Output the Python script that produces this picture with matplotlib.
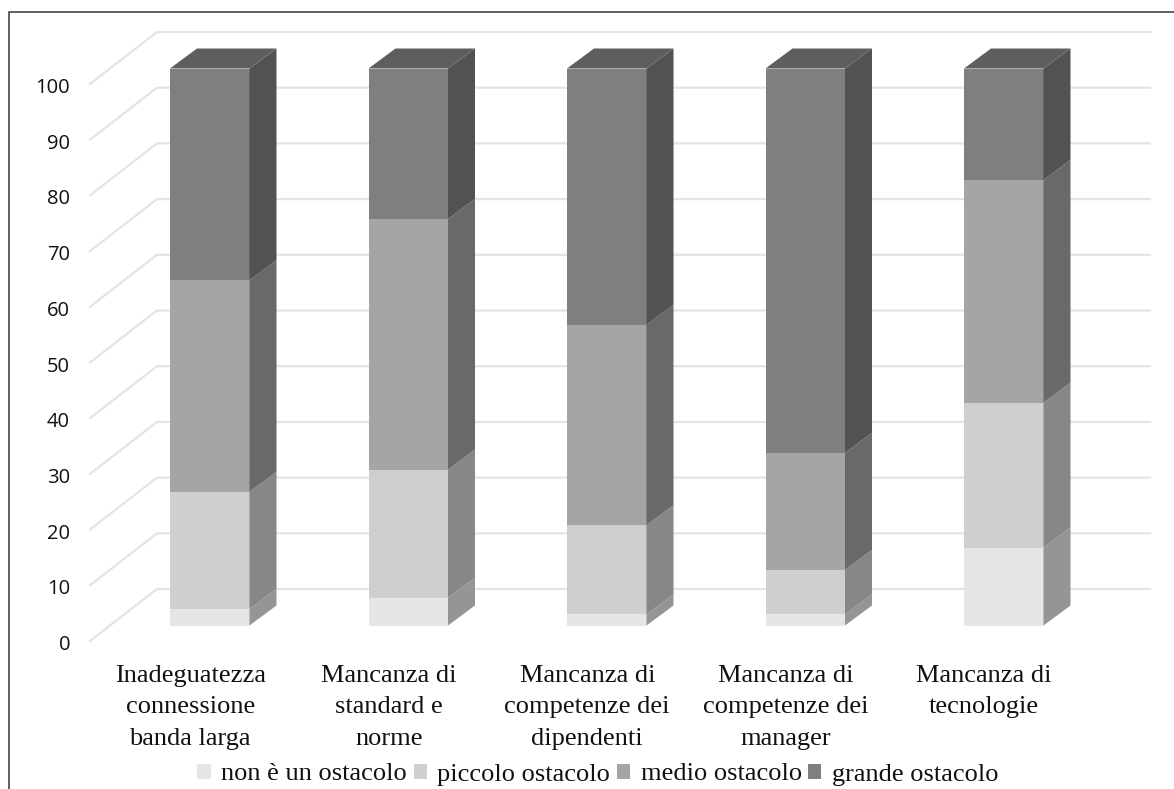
#!/usr/bin/env python3

import matplotlib
matplotlib.use("Agg")
import matplotlib.pyplot as plt
from matplotlib.patches import Polygon, Patch

# Data
categories = ["Inadeguatezza\nconnessione\nbanda larga",
              "Mancanza di\nstandard e\nnorme",
              "Mancanza di\ncompetenze dei\ndipendenti",
              "Mancanza di\ncompetenze dei\nmanager",
              "Mancanza di\ntecnologie"]
series_names = ["non è un ostacolo", "piccolo ostacolo", "medio ostacolo", "grande ostacolo"]
non_ostacolo = [3, 5, 2, 2, 14]
piccolo = [21, 23, 16, 8, 26]
medio = [38, 45, 36, 21, 40]
grande = [38, 27, 46, 69, 20]
yticks = [0, 10, 20, 30, 40, 50, 60, 70, 80, 90, 100]

front_colors = ["#e6e6e6", "#d0cece", "#a5a5a5", "#7f7f7f"]
side_colors = ["#959595", "#878787", "#696969", "#525252"]
top_color = "#5e5e5e"
grid_color = "#e4e4e4"
serif_font = "Liberation Serif"
sans_font = "Open Sans"

W, H = 1174, 789
px_x = 198.5      # pixels per category
px_y = 5.57       # pixels per value unit
x0_px = 209.75    # pixel x of first bar centre
y0_px = 625.5     # pixel y of value 0, bar front

def dx(p):
    return p/px_x

def dy(p):
    return p/px_y

fig = plt.figure(figsize=(W/100, H/100), dpi=100)
ax = fig.add_axes([0, 0, 1, 1])
ax.set_xlim(-x0_px/px_x, (W-x0_px)/px_x)
ax.set_ylim(-(H-y0_px)/px_y, y0_px/px_y)
ax.axis("off")

# outer frame (left and top only, the picture is cropped on the others)
ax.plot([8.5/W, 8.5/W, 1], [0, 1-11.5/H, 1-11.5/H], transform=ax.transAxes,
        color="#444444", lw=1.2, clip_on=False)

# gridlines on the floor side and back wall
bar_w = dx(79.5)
fx, fy = dx(-119.75), dy(-15.5)   # front end of gridline relative to bar centre 0 / value
bx, by = dx(-52.75), dy(36.5)     # back corner
ex = dx(1150-x0_px)
for v in yticks:
    ax.plot([fx, bx, ex], [v+fy, v+by, v+by], color=grid_color, lw=1.6,
            solid_joinstyle="miter", zorder=1)
    ax.text(dx(-139.75), v+dy(-17), str(v), ha="right", va="center_baseline",
            family=sans_font, fontsize=14.5, color="#111111")

# bars: front face, right side, top on the last segment
depth_x, depth_y = dx(27), dy(20)
for i in range(len(categories)):
    bottom = 0
    left = i-bar_w/2
    right = i+bar_w/2
    for k, vals in enumerate([non_ostacolo, piccolo, medio, grande]):
        top = bottom+vals[i]
        ax.add_patch(Polygon([(left, bottom), (right, bottom), (right, top), (left, top)],
                             fc=front_colors[k], ec="none", zorder=3))
        ax.add_patch(Polygon([(right, bottom), (right+depth_x, bottom+depth_y),
                              (right+depth_x, top+depth_y), (right, top)],
                             fc=side_colors[k], ec="none", zorder=3))
        if k == 3:
            ax.add_patch(Polygon([(left, top), (right, top), (right+depth_x, top+depth_y),
                                  (left+depth_x, top+depth_y)],
                                 fc=top_color, ec="none", zorder=3))
        bottom = top
    ax.text(i+dx(-19.5), dy(-39.5), categories[i], ha="center", va="top",
            family=serif_font, fontsize=19, linespacing=1.55, color="#111111")

handles = [Patch(fc=c, ec="none", label=n) for c, n in zip(front_colors, series_names)]
ax.legend(handles=handles, ncol=4, loc="center", bbox_to_anchor=(598/W, 1-774.5/H),
          bbox_transform=ax.transAxes, frameon=False, handlelength=0.5, handleheight=0.5,
          handletextpad=0.4, columnspacing=0.25, borderpad=0, labelcolor="#111111",
          prop={"family": serif_font, "size": 19})

fig.savefig("out.png", dpi=100)
